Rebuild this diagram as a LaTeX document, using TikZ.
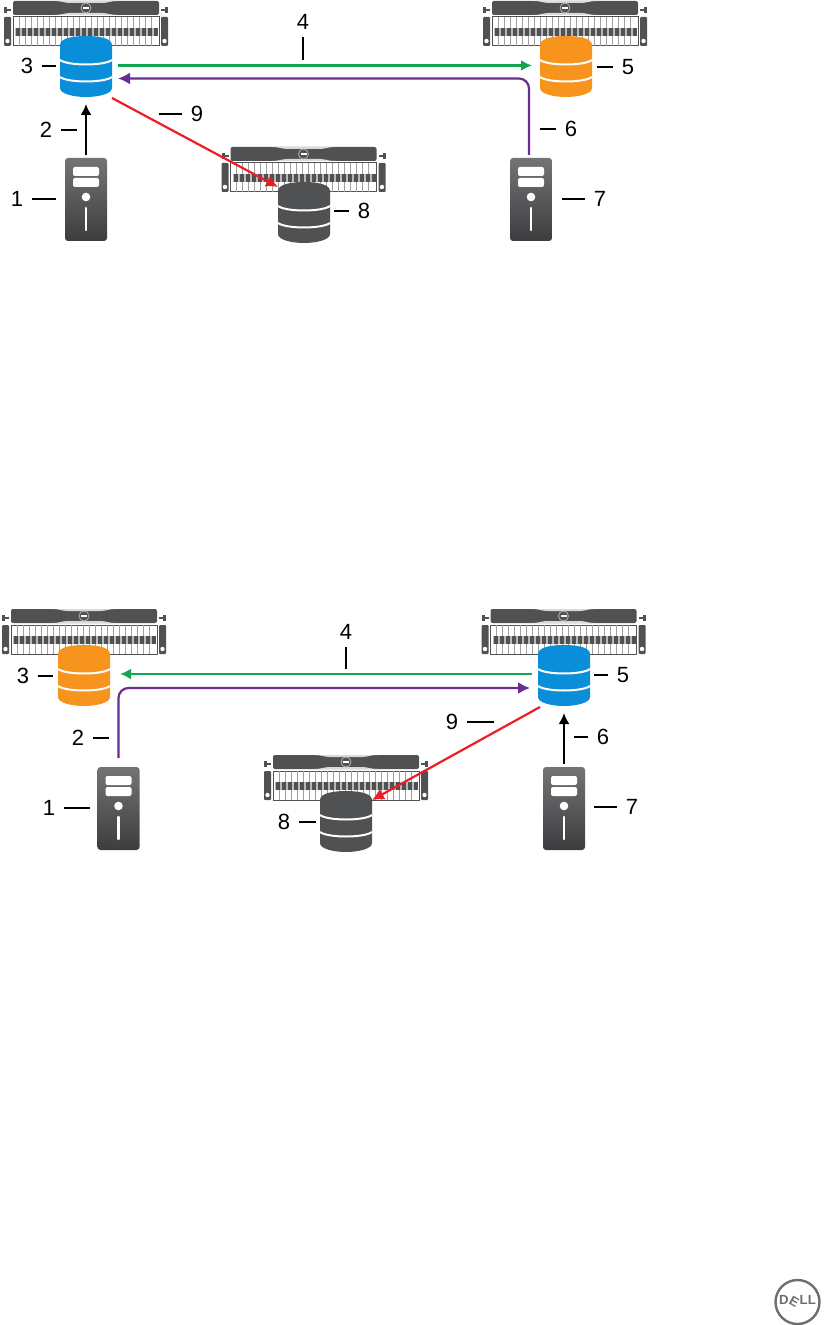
\documentclass[tikz,border=0pt]{standalone}
\usepackage{fontspec}
\setmainfont{Liberation Sans}
\usepackage{graphicx}
\usepackage{xcolor}
\usepackage{tikz}
\usetikzlibrary{arrows.meta,calc,positioning}
\definecolor{dellblue}{HTML}{0A8ED9}
\definecolor{dellorange}{HTML}{F7941D}
\definecolor{darkgrey}{HTML}{505153}
\definecolor{linkgreen}{HTML}{12A650}
\definecolor{linkpurple}{HTML}{6A2C91}
\definecolor{linkred}{HTML}{EE1C25}
\definecolor{logogrey}{HTML}{6D6E71}
\tikzset{
  numlabel/.style={circle,draw=none,inner sep=0.2mm,minimum size=1mm,outer sep=2pt,font=\fontsize{11}{13}\selectfont},
  tick/.style={line width=0.65pt,black},
  feed/.style={-{Latex[length=5.5pt,width=5.5pt]},line width=1pt,black},
  repl/.style={-{Latex[length=5.5pt,width=5.5pt]},line width=1.2pt,linkgreen},
  write/.style={-{Latex[length=6pt,width=6pt]},line width=1.1pt,linkpurple,rounded corners=5pt},
  lost/.style={-{Latex[length=6pt,width=6pt]},line width=1.1pt,linkred},
  iconbox/.style={rectangle,draw=none,inner sep=0pt,outer sep=0pt}
}
% rack: centre x, top y
\newcommand{\rackicon}[2]{
\begin{scope}[shift={(#1,#2)}]
\fill [darkgrey,rounded corners=1pt] (-73,0) rectangle (73,14);
\fill [white!85!black] (-32,0)..controls (-24,0) and (-22,2)..(-16,2)--(16,2)..controls (22,2) and (24,0)..(32,0)--cycle;
\fill [white!85!black] (-32,14)..controls (-24,14) and (-22,12)..(-16,12)--(16,12)..controls (22,12) and (24,14)..(32,14)--cycle;
\draw [white!70!black,fill=darkgrey,line width=0.4pt] (0,7) circle (5);
\fill [white] (-3,6) rectangle (3,8);
\fill [darkgrey] (-82,6) rectangle (-79,12);
\fill [darkgrey] (-79,8) rectangle (-75,10);
\fill [darkgrey] (79,6) rectangle (82,12);
\fill [darkgrey] (75,8) rectangle (79,10);
\fill [darkgrey,rounded corners=0.5pt] (-82,16) rectangle (-75,45);
\fill [darkgrey,rounded corners=0.5pt] (75,16) rectangle (82,45);
\fill [white] (-78.5,40) circle (2.2);
\fill [white] (78.5,40) circle (2.2);
\draw [darkgrey,fill=white,line width=0.5pt] (-73,16) rectangle (73,45);
\foreach \i in {-67,-61,...,67} {\draw [darkgrey!55,line width=0.4pt] (\i,16)--(\i,45);}
\fill [darkgrey!40] (-71,27) rectangle (71,35);
\foreach \i in {-70,-64,...,68} {\fill [darkgrey] (\i,27) rectangle +(4,8);}
\end{scope}}
% database: name, centre x, top y, colour
\newcommand{\dbicon}[4]{
\begin{scope}[shift={(#2,#3)}]
\fill [#4] (-26,9)..controls (-26,2) and (-12,0)..(0,0)..controls (12,0) and (26,2)..(26,9)--(26,52)..controls (26,58) and (12,61)..(0,61)..controls (-12,61) and (-26,58)..(-26,52)--cycle;
\draw [white,line width=1pt] (-26,24)..controls (-18,30) and (18,30)..(26,24);
\draw [white,line width=1pt] (-26,41)..controls (-18,47) and (18,47)..(26,41);
\node (#1) [iconbox,minimum width=26pt,minimum height=30.5pt] at (0,30.5) {};
\end{scope}}
% tower: name, centre x, top y
\newcommand{\towericon}[3]{
\begin{scope}[shift={(#2,#3)}]
\node (#1) [iconbox,minimum width=21pt,minimum height=41.5pt,rounded corners=1.5pt,top color=darkgrey!80,bottom color=darkgrey!75!black] at (0,41.5) {};
\fill [white,rounded corners=1pt] (-13,9) rectangle (13,18);
\fill [white,rounded corners=1pt] (-13,20) rectangle (13,29);
\fill [white] (0,39) circle (4.3);
\draw [white,line width=1.2pt,line cap=round] (0,50)--(0,72);
\end{scope}}
\begin{document}
\begin{tikzpicture}[x=0.5pt,y=-0.5pt]
\useasboundingbox (0,0) rectangle (823,1325);
% upper panel
\rackicon{86}{1}
\rackicon{565}{1}
\rackicon{303.5}{147}
\dbicon{dbA}{86}{36}{dellblue}
\dbicon{dbB}{566}{36}{dellorange}
\dbicon{dbC}{304}{182}{darkgrey}
\towericon{twA}{86}{158}
\towericon{twB}{531}{158}
\draw [feed,shorten <=1.5pt,shorten >=3.5pt] (twA.north)--(dbA.south);
\draw [repl] ($(dbA.east)+(6,-1)$)--($(dbB.west)+(-8,-1)$);
\draw [write] ($(twB.north)+(-2,-3)$) |- ($(dbA.east)+(6,12)$);
\draw [lost] ($(dbA.south east)+(0,1)$)--($(dbC.north west)+(0,5)$);
\node (a1) [numlabel] at (17,199) {1}; \coordinate (a1t) at (56,199); \draw [tick] (a1)--(a1t);
\node (a2) [numlabel] at (46,130) {2}; \coordinate (a2t) at (77,130); \draw [tick] (a2)--(a2t);
\node (a3) [numlabel] at (27,66) {3}; \coordinate (a3t) at (56,66); \draw [tick] (a3)--(a3t);
\node (a4) [numlabel] at (303,22) {4}; \coordinate (a4t) at (303,60); \draw [tick] (a4)--(a4t);
\node (a5) [numlabel] at (628,67) {5}; \coordinate (a5t) at (597,67); \draw [tick] (a5)--(a5t);
\node (a6) [numlabel] at (571,129) {6}; \coordinate (a6t) at (540,129); \draw [tick] (a6)--(a6t);
\node (a7) [numlabel] at (600,199) {7}; \coordinate (a7t) at (562,199); \draw [tick] (a7)--(a7t);
\node (a8) [numlabel] at (364,211) {8}; \coordinate (a8t) at (334,211); \draw [tick] (a8)--(a8t);
\node (a9) [numlabel] at (197,114) {9}; \coordinate (a9t) at (159,114); \draw [tick] (a9)--(a9t);
% lower panel
\rackicon{84}{609}
\rackicon{563.5}{609}
\rackicon{346}{755}
\dbicon{dbD}{84}{645}{dellorange}
\dbicon{dbE}{564}{645}{dellblue}
\dbicon{dbF}{346}{791}{darkgrey}
\towericon{twC}{118.5}{767}
\towericon{twD}{564}{767}
\draw [feed,shorten <=1.5pt,shorten >=3.5pt] (twD.north)--(dbE.south);
\draw [repl] ($(dbE.west)+(-6,-1.5)$)--($(dbD.east)+(10,-1.5)$);
\draw [write] ($(twC.north)+(0,-9)$) |- ($(dbE.west)+(-8,12.5)$);
\draw [lost] ($(dbE.south west)+(2,1)$)--($(dbF.north east)+(0,9)$);
\node (b1) [numlabel] at (49,808) {1}; \coordinate (b1t) at (90,808); \draw [tick] (b1)--(b1t);
\node (b2) [numlabel] at (78,738) {2}; \coordinate (b2t) at (109,738); \draw [tick] (b2)--(b2t);
\node (b3) [numlabel] at (23,676) {3}; \coordinate (b3t) at (53,676); \draw [tick] (b3)--(b3t);
\node (b4) [numlabel] at (346,632) {4}; \coordinate (b4t) at (346,669); \draw [tick] (b4)--(b4t);
\node (b5) [numlabel] at (623,675) {5}; \coordinate (b5t) at (594,675); \draw [tick] (b5)--(b5t);
\node (b6) [numlabel] at (603,737) {6}; \coordinate (b6t) at (574,737); \draw [tick] (b6)--(b6t);
\node (b7) [numlabel] at (632,807) {7}; \coordinate (b7t) at (594,807); \draw [tick] (b7)--(b7t);
\node (b8) [numlabel] at (284,822) {8}; \coordinate (b8t) at (316,822); \draw [tick] (b8)--(b8t);
\node (b9) [numlabel] at (452,722) {9}; \coordinate (b9t) at (494,722); \draw [tick] (b9)--(b9t);
% logo
\node (logo) [circle,draw=logogrey,line width=1.2pt,minimum size=22pt,inner sep=0pt,text=logogrey,font=\bfseries\fontsize{6.6}{7}\selectfont] at (797.5,1302) {D\kern-0.3pt\raisebox{0.5pt}{\rotatebox{-30}{E}}\kern-0.3pt LL};
\end{tikzpicture}
\end{document}
